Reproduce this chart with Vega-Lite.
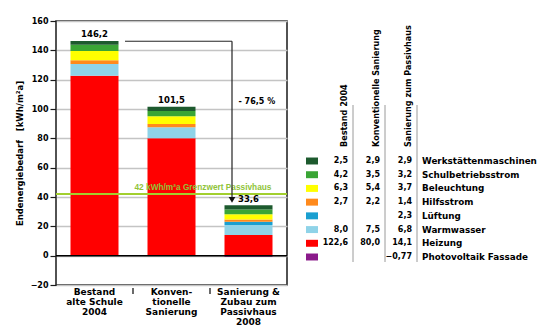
{
  "$schema": "https://vega.github.io/schema/vega-lite/v6.json",
  "background": "white",
  "padding": {"left": 14, "top": 16, "right": 0, "bottom": 0},
  "spacing": 2,
  "bounds": "flush",
  "config": {
    "locale": {"number": {"decimal": ",", "thousands": ".", "grouping": [3], "currency": ["", " €"]}},
    "view": {"stroke": null},
    "font": "DejaVu Sans"
  },
  "datasets": {
    "energy": [
      {"bar": "B", "cat": "Heizung", "rank": 1, "value": 122.6},
      {"bar": "B", "cat": "Warmwasser", "rank": 2, "value": 8.0},
      {"bar": "B", "cat": "Hilfsstrom", "rank": 4, "value": 2.7},
      {"bar": "B", "cat": "Beleuchtung", "rank": 5, "value": 6.3},
      {"bar": "B", "cat": "Schulbetriebsstrom", "rank": 6, "value": 4.2},
      {"bar": "B", "cat": "Werkstättenmaschinen", "rank": 7, "value": 2.5},
      {"bar": "K", "cat": "Heizung", "rank": 1, "value": 80.0},
      {"bar": "K", "cat": "Warmwasser", "rank": 2, "value": 7.5},
      {"bar": "K", "cat": "Hilfsstrom", "rank": 4, "value": 2.2},
      {"bar": "K", "cat": "Beleuchtung", "rank": 5, "value": 5.4},
      {"bar": "K", "cat": "Schulbetriebsstrom", "rank": 6, "value": 3.5},
      {"bar": "K", "cat": "Werkstättenmaschinen", "rank": 7, "value": 2.9},
      {"bar": "S", "cat": "Heizung", "rank": 1, "value": 14.1},
      {"bar": "S", "cat": "Warmwasser", "rank": 2, "value": 6.8},
      {"bar": "S", "cat": "Lüftung", "rank": 3, "value": 2.3},
      {"bar": "S", "cat": "Hilfsstrom", "rank": 4, "value": 1.4},
      {"bar": "S", "cat": "Beleuchtung", "rank": 5, "value": 3.7},
      {"bar": "S", "cat": "Schulbetriebsstrom", "rank": 6, "value": 3.2},
      {"bar": "S", "cat": "Werkstättenmaschinen", "rank": 7, "value": 2.9},
      {"bar": "S", "cat": "Photovoltaik Fassade", "rank": 8, "value": -0.77}
    ],
    "totals": [
      {"bar": "B", "total": 146.2},
      {"bar": "K", "total": 101.5},
      {"bar": "S", "total": 33.6}
    ],
    "cats": [
      {"cat": "Werkstättenmaschinen"},
      {"cat": "Schulbetriebsstrom"},
      {"cat": "Beleuchtung"},
      {"cat": "Hilfsstrom"},
      {"cat": "Lüftung"},
      {"cat": "Warmwasser"},
      {"cat": "Heizung"},
      {"cat": "Photovoltaik Fassade"}
    ],
    "headers": [
      {"bar": "B", "header": "Bestand 2004"},
      {"bar": "K", "header": "Konventionelle Sanierung"},
      {"bar": "S", "header": "Sanierung zum Passivhaus"}
    ]
  },
  "resolve": {"scale": {"x": "independent", "y": "independent"}},
  "hconcat": [
    {
      "width": 231,
      "height": 264,
      "view": {"stroke": "#1a1a1a", "strokeWidth": 1.5},
      "encoding": {
        "x": {
          "field": "bar", "type": "nominal",
          "scale": {"domain": ["B", "K", "S"], "paddingInner": 0, "paddingOuter": 0},
          "axis": {
            "title": null, "domain": false, "labelAngle": 0, "ticks": false,
            "labelFont": "DejaVu Sans", "labelFontWeight": "bold", "labelFontSize": 9,
            "labelLineHeight": 10, "labelPadding": 2, "labelColor": "black",
            "labelBaseline": "top",
            "labelExpr": "datum.value == 'B' ? ['Bestand', 'alte Schule', '2004'] : datum.value == 'K' ? ['Konven-', 'tionelle', 'Sanierung'] : datum.value == 'S' ? ['Sanierung &', 'Zubau zum', 'Passivhaus', '2008'] : ''"
          }
        },
        "y": {
          "type": "quantitative",
          "scale": {"domain": [-20, 160], "nice": false, "zero": false},
          "axis": {
            "title": "Endenergiebedarf\u00a0\u00a0\u00a0[kWh/m²a]",
            "titleFont": "DejaVu Sans", "titleFontWeight": "bold", "titleFontSize": 8.5,
            "titleColor": "black", "titlePadding": 6,
            "values": [-20, 0, 20, 40, 60, 80, 100, 120, 140, 160],
            "domain": false, "tickColor": "#1a1a1a", "tickSize": 6, "tickWidth": 1.2,
            "labelFont": "DejaVu Sans", "labelFontWeight": "bold", "labelFontSize": 8,
            "labelColor": "black", "labelPadding": 2,
            "grid": true, "gridColor": "#c4c4c4", "gridWidth": 1.5
          }
        }
      },
      "layer": [
        {
          "data": {"name": "energy"},
          "mark": {"type": "bar", "width": 48},
          "encoding": {
            "y": {"field": "value", "type": "quantitative", "stack": "zero"},
            "order": {"field": "rank", "type": "quantitative", "sort": "ascending"},
            "color": {
              "field": "cat", "type": "nominal",
              "scale": {
                "domain": ["Heizung", "Warmwasser", "Lüftung", "Hilfsstrom", "Beleuchtung", "Schulbetriebsstrom", "Werkstättenmaschinen", "Photovoltaik Fassade"],
                "range": ["#ff0000", "#8fd3e8", "#1a9fd0", "#ff8a1c", "#ffff00", "#3aa535", "#1d5a2e", "#8b1a8b"]
              },
              "legend": null
            }
          }
        },
        {
          "data": {"values": [{}]},
          "mark": {"type": "rule", "color": "black", "strokeWidth": 1.5},
          "encoding": {"y": {"datum": 0}, "x": {"value": 0}, "x2": {"value": 231}}
        },
        {
          "data": {"values": [{"bar": "K"}, {"bar": "S"}]},
          "mark": {"type": "rule", "color": "#1a1a1a", "strokeWidth": 1.3, "xOffset": -38.5, "yOffset": 3, "y2Offset": 9},
          "encoding": {"x": {"field": "bar"}, "y": {"datum": -20}, "y2": {"datum": -20}}
        },
        {
          "data": {"values": [{}]},
          "mark": {"type": "rule", "color": "#a2cf2e", "strokeWidth": 2},
          "encoding": {"y": {"datum": 42}, "x": {"value": 0}, "x2": {"value": 231}}
        },
        {
          "data": {"values": [{"label": "42 kWh/m²a  Grenzwert Passivhaus"}]},
          "mark": {"type": "text", "font": "Liberation Sans", "fontWeight": "bold", "fontSize": 8.3, "color": "#8fc43a", "align": "left", "baseline": "bottom", "xOffset": -37, "yOffset": -2},
          "encoding": {"x": {"datum": "K"}, "y": {"datum": 42}, "text": {"field": "label"}}
        },
        {
          "data": {"name": "totals"},
          "mark": {"type": "text", "font": "DejaVu Sans", "fontWeight": "bold", "fontSize": 8.5, "color": "black", "baseline": "bottom", "dy": -2},
          "encoding": {"y": {"field": "total", "type": "quantitative"}, "text": {"field": "total", "type": "quantitative", "format": ".1f"}}
        },
        {
          "data": {"values": [{}]},
          "mark": {"type": "rule", "color": "#222222", "strokeWidth": 1, "xOffset": 30.5, "x2Offset": -16.5},
          "encoding": {"x": {"datum": "B"}, "x2": {"datum": "S"}, "y": {"datum": 146.2}}
        },
        {
          "data": {"values": [{}]},
          "mark": {"type": "rule", "color": "#222222", "strokeWidth": 1.2, "xOffset": -16.5},
          "encoding": {"x": {"datum": "S"}, "y": {"datum": 146.2}, "y2": {"datum": 39}}
        },
        {
          "data": {"values": [{}]},
          "mark": {"type": "point", "shape": "triangle-down", "filled": true, "color": "#111111", "size": 45, "opacity": 1, "xOffset": -16.5},
          "encoding": {"x": {"datum": "S"}, "y": {"datum": 38}}
        },
        {
          "data": {"values": [{"label": "- 76,5 %"}]},
          "mark": {"type": "text", "font": "DejaVu Sans", "fontWeight": "bold", "fontSize": 8, "color": "black", "align": "left", "baseline": "middle", "xOffset": -10},
          "encoding": {"x": {"datum": "S"}, "y": {"datum": 104.5}, "text": {"field": "label"}}
        }
      ]
    },
    {
      "width": 128,
      "height": 264,
      "encoding": {
        "x": {
          "type": "nominal",
          "scale": {"type": "band", "domain": ["sw", "B", "K", "S"], "paddingInner": 0, "paddingOuter": 0},
          "axis": null
        },
        "y": {
          "type": "nominal",
          "scale": {"type": "point", "domain": ["Werkstättenmaschinen", "Schulbetriebsstrom", "Beleuchtung", "Hilfsstrom", "Lüftung", "Warmwasser", "Heizung", "Photovoltaik Fassade"], "range": [140, 236], "padding": 0},
          "axis": null
        }
      },
      "layer": [
        {
          "data": {"name": "headers"},
          "mark": {"type": "rule", "color": "#9a9a9a", "strokeWidth": 1, "xOffset": 16, "yOffset": -56, "y2Offset": 5},
          "encoding": {"x": {"field": "bar"}, "y": {"datum": "Werkstättenmaschinen"}, "y2": {"datum": "Photovoltaik Fassade"}}
        },
        {
          "data": {"name": "headers"},
          "mark": {"type": "text", "font": "DejaVu Sans", "fontWeight": "bold", "fontSize": 8.1, "color": "black", "angle": 270, "align": "left", "baseline": "middle", "xOffset": 8, "yOffset": -14},
          "encoding": {"x": {"field": "bar"}, "y": {"datum": "Werkstättenmaschinen"}, "text": {"field": "header"}}
        },
        {
          "data": {"name": "cats"},
          "mark": {"type": "point", "shape": "M-1,-0.58L1,-0.58L1,0.58L-1,0.58Z", "filled": true, "size": 144, "opacity": 1, "xOffset": 7},
          "encoding": {"x": {"datum": "sw"}, "y": {"field": "cat"}, "color": {"field": "cat", "type": "nominal"}}
        },
        {
          "data": {"name": "energy"},
          "transform": [{"filter": "datum.value > 0"}],
          "mark": {"type": "text", "font": "DejaVu Sans", "fontWeight": "bold", "fontSize": 8, "color": "black", "align": "right", "baseline": "middle", "xOffset": 11},
          "encoding": {"x": {"field": "bar"}, "y": {"field": "cat"}, "text": {"field": "value", "type": "quantitative", "format": ".1f"}}
        },
        {
          "data": {"name": "energy"},
          "transform": [{"filter": "datum.value < 0"}],
          "mark": {"type": "text", "font": "DejaVu Sans", "fontWeight": "bold", "fontSize": 8, "color": "black", "align": "right", "baseline": "middle", "xOffset": 11},
          "encoding": {"x": {"field": "bar"}, "y": {"field": "cat"}, "text": {"field": "value", "type": "quantitative", "format": ".2f"}}
        },
        {
          "data": {"name": "cats"},
          "mark": {"type": "text", "font": "DejaVu Sans", "fontWeight": "bold", "fontSize": 8.8, "color": "black", "align": "left", "baseline": "middle", "xOffset": 21},
          "encoding": {"x": {"datum": "S"}, "y": {"field": "cat"}, "text": {"field": "cat"}}
        }
      ]
    }
  ]
}
